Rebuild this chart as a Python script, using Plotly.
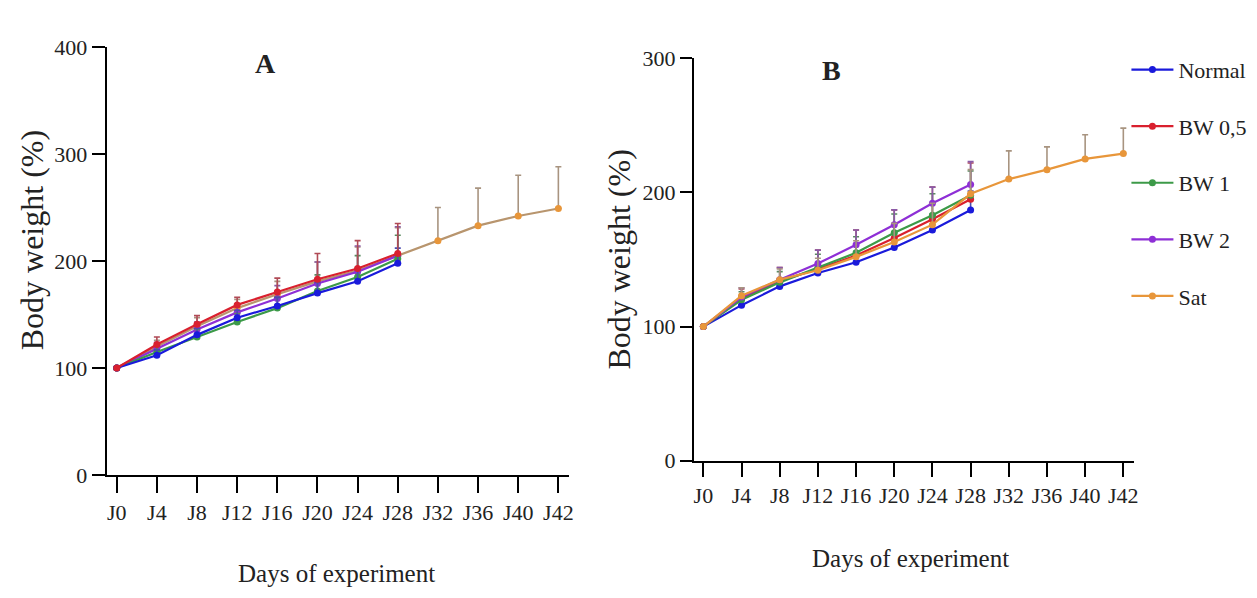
import plotly.graph_objects as go

W, H = 1257, 598

days = ["J0", "J4", "J8", "J12", "J16", "J20", "J24", "J28", "J32", "J36", "J40", "J42"]
series_names = ["Normal", "BW 0,5", "BW 1", "BW 2", "Sat"]

# Panel A values (% body weight) and upper SEM
a_normal = [100, 112, 131, 147, 158, 170, 181, 198]
a_bw05 = [100, 122, 141, 159, 171, 183, 193, 207]
a_bw1 = [100, 115, 129, 143, 156, 172, 185, 202]
a_bw2 = [100, 118, 136, 152, 165, 179, 190, 205]
a_sat = [100, 120, 139, 156, 169, 181, 191, 205, 219, 233, 242, 249]

a_err_normal = [0, 5, 6, 7, 8, 10, 12, 14]
a_err_bw05 = [0, 7, 8, 7, 13, 24, 26, 28]
a_err_bw1 = [0, 6, 7, 8, 10, 15, 20, 22]
a_err_bw2 = [0, 6, 7, 8, 12, 20, 24, 27]
a_err_sat = [0, 6, 8, 8, 12, 18, 22, 26, 31, 35, 38, 39]

# Panel B values
b_normal = [100, 116, 130, 140, 148, 159, 172, 187]
b_bw05 = [100, 121, 134, 143, 153, 166, 180, 195]
b_bw1 = [100, 120, 133, 144, 155, 170, 183, 198]
b_bw2 = [100, 122, 135, 147, 161, 176, 192, 206]
b_sat = [100, 123, 135, 142, 152, 163, 176, 199, 210, 217, 225, 229]

b_err_normal = [0, 5, 5, 6, 8, 10, 12, 14]
b_err_bw05 = [0, 7, 10, 14, 19, 21, 24, 27]
b_err_bw1 = [0, 6, 8, 10, 12, 14, 16, 18]
b_err_bw2 = [0, 7, 9, 10, 11, 11, 12, 17]
b_err_sat = [0, 6, 8, 9, 12, 14, 16, 18, 21, 17, 18, 19]

a_ticks = [0, 100, 200, 300, 400]
b_ticks = [0, 100, 200, 300]

colors = {"Normal": "#1a1adb", "BW 0,5": "#d9202e", "BW 1": "#3c9a48",
          "BW 2": "#8e2fd6", "Sat": "#e8963a"}
err_colors = {"Normal": "#4b4bb0", "BW 0,5": "#b04a55", "BW 1": "#5a8a60",
              "BW 2": "#8a5aa8", "Sat": "#a89480"}
line_colors_a = {"Normal": "#1a1adb", "BW 0,5": "#d9202e", "BW 1": "#3c9a48",
                 "BW 2": "#8e2fd6", "Sat": "#b8956e"}

FONT = "Liberation Serif"

fig = go.Figure()

def add(vals, errs, name, xa, ya, show, lc):
    n = len(vals)
    fig.add_trace(go.Scatter(
        x=days[:n], y=vals, name=name, mode="lines+markers",
        line=dict(color=lc, width=2.2),
        marker=dict(color=colors[name], size=7, symbol="circle"),
        error_y=dict(type="data", symmetric=False, array=errs, arrayminus=[0] * n,
                     color=err_colors[name], thickness=1.6, width=3),
        xaxis=xa, yaxis=ya, showlegend=show, legendgroup=name,
    ))

a_sets = [(a_sat, a_err_sat, "Sat"), (a_bw2, a_err_bw2, "BW 2"), (a_bw1, a_err_bw1, "BW 1"),
          (a_normal, a_err_normal, "Normal"), (a_bw05, a_err_bw05, "BW 0,5")]
for v, e, nm in a_sets:
    add(v, e, nm, "x", "y", False, line_colors_a[nm])

b_sets = [(b_normal, b_err_normal, "Normal"), (b_bw05, b_err_bw05, "BW 0,5"),
          (b_bw1, b_err_bw1, "BW 1"), (b_bw2, b_err_bw2, "BW 2"), (b_sat, b_err_sat, "Sat")]
for v, e, nm in b_sets:
    add(v, e, nm, "x2", "y2", True, colors[nm])

def px_x(p):
    return p / W

def px_y(p):
    return 1 - p / H

axis_common = dict(showline=True, linecolor="black", linewidth=2, ticks="outside",
                   tickcolor="black", tickwidth=2, showgrid=False, zeroline=False)

fig.update_layout(
    width=W, height=H, margin=dict(l=0, r=0, t=0, b=0),
    paper_bgcolor="white", plot_bgcolor="white",
    font=dict(family=FONT, size=22, color="#222"),
    xaxis=dict(domain=[px_x(99), px_x(563)], anchor="y", type="category", ticklen=16,
               categoryorder="array", categoryarray=days, range=[-0.25, 11.27], **axis_common),
    yaxis=dict(domain=[px_y(475), px_y(28)], anchor="x", range=[0, 400], ticklen=13,
               tickvals=a_ticks, **axis_common),
    xaxis2=dict(domain=[px_x(688), px_x(1130)], anchor="y2", type="category", ticklen=14,
                categoryorder="array", categoryarray=days, range=[-0.25, 11.29], **axis_common),
    yaxis2=dict(domain=[px_y(460), px_y(40)], anchor="x2", range=[0, 300], ticklen=12,
                tickvals=b_ticks, **axis_common),
    legend=dict(x=px_x(1122), xanchor="left", y=px_y(30), yanchor="top",
                font=dict(family=FONT, size=22, color="#222"), itemwidth=42,
                tracegroupgap=25, bgcolor="rgba(0,0,0,0)"),
    showlegend=True,
)
fig.update_xaxes(tickfont=dict(family=FONT, size=22, color="#222"))
fig.update_yaxes(tickfont=dict(family=FONT, size=22, color="#222"))

ann = [
    dict(text="<b>A</b>", x=px_x(258), y=px_y(45), font=dict(size=28)),
    dict(text="<b>B</b>", x=px_x(826), y=px_y(53), font=dict(size=28)),
    dict(text="Days of experiment", x=px_x(330), y=px_y(578), font=dict(size=25)),
    dict(text="Days of experiment", x=px_x(905), y=px_y(562), font=dict(size=25)),
    dict(text="Body weight (%)", x=px_x(24), y=px_y(230), font=dict(size=32), textangle=-90),
    dict(text="Body weight (%)", x=px_x(612), y=px_y(250), font=dict(size=32), textangle=-90),
]
for a in ann:
    a["font"].update(family=FONT, color="#222")
    fig.add_annotation(xref="paper", yref="paper", showarrow=False,
                       xanchor="center", yanchor="middle", **a)

fig.write_html("out.html")
